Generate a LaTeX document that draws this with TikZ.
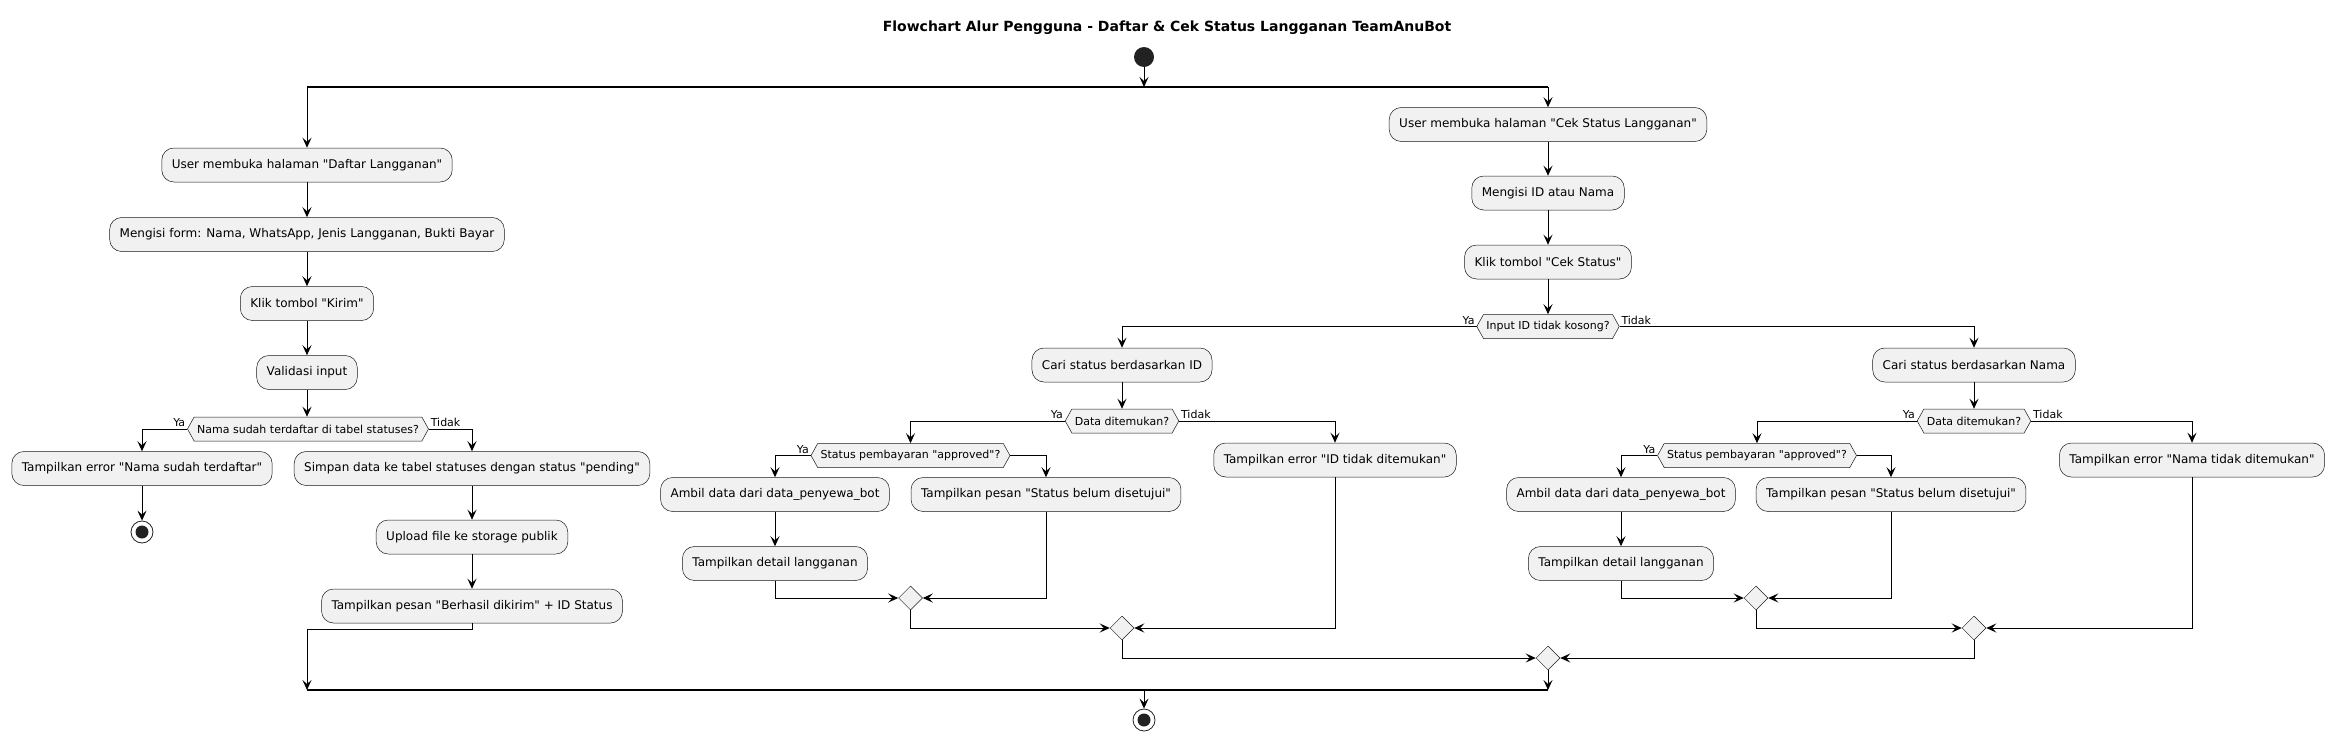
\documentclass[tikz,border=0pt]{standalone}
\usepackage{fontspec}
\setmainfont{DejaVu Sans}[Ligatures=TeXOff]
\usetikzlibrary{arrows.meta,shapes.geometric,shapes.symbols}
\definecolor{boxfill}{HTML}{F1F1F1}
\definecolor{boxline}{HTML}{181818}
\definecolor{dot}{HTML}{222222}
\begin{document}
\begin{tikzpicture}[x=1pt,y=-1pt,
  act/.style={draw=boxline,line width=0.5pt,fill=boxfill,rounded corners=12pt,minimum height=34pt,inner xsep=10pt,font=\fontsize{12}{14}\selectfont},
  ask/.style={draw=boxline,line width=0.5pt,fill=boxfill,signal,signal to=east and west,signal pointer angle=122,minimum height=24pt,inner xsep=3pt,inner ysep=2pt,font=\fontsize{11}{13}\selectfont},
  merge/.style={draw=boxline,line width=0.5pt,fill=boxfill,diamond,minimum width=24pt,minimum height=24pt,inner sep=0pt},
  startdot/.style={circle,fill=dot,minimum size=20pt,inner sep=0pt},
  stopdot/.style={circle,draw=dot,fill=white,line width=0.8pt,minimum size=22pt,inner sep=0pt,path picture={\fill[dot] (path picture bounding box.center) circle (6.5pt);}},
  arr/.style={-{Stealth[length=10pt,width=9pt,inset=4pt]},line width=1pt},
  bar/.style={line width=1.6pt},
  lbl/.style={font=\fontsize{11}{13}\selectfont,inner sep=1.5pt}]
\useasboundingbox (0,0) rectangle (2335,742);
\node[font=\bfseries\fontsize{14}{16}\selectfont] (title) at (1167,28) {Flowchart Alur Pengguna - Daftar \& Cek Status Langganan TeamAnuBot};
\node[startdot] (start) at (1144,57) {};
\coordinate (forkL) at (307,87);
\coordinate (forkR) at (1548,87);
\coordinate (joinL) at (307,690);
\coordinate (joinR) at (1548,690);
\draw[bar] (forkL) -- (forkR);
\draw[bar] (joinL) -- (joinR);
\draw[arr] (start) -- (start |- forkL);

\node[act] (d1) at (307,165) {User membuka halaman "Daftar Langganan"};
\node[act] (d2) at (307,234.5) {Mengisi form: Nama, WhatsApp, Jenis Langganan, Bukti Bayar};
\node[act] (d3) at (307,303.5) {Klik tombol "Kirim"};
\node[act] (d4) at (307,372.5) {Validasi input};
\node[ask] (q1) at (308,429) {Nama sudah terdaftar di tabel statuses?};
\node[act] (e1) at (142,468.5) {Tampilkan error "Nama sudah terdaftar"};
\node[stopdot] (stop1) at (142,532) {};
\node[act] (s1) at (472,468.5) {Simpan data ke tabel statuses dengan status "pending"};
\node[act] (s2) at (472,537) {Upload file ke storage publik};
\node[act] (s3) at (472,606) {Tampilkan pesan "Berhasil dikirim" + ID Status};
\draw[arr] (forkL) -- (d1);
\draw[arr] (d1) -- (d2);
\draw[arr] (d2) -- (d3);
\draw[arr] (d3) -- (d4);
\draw[arr] (d4) -- (d4 |- q1.north);
\draw[arr] (q1.west) -| node[lbl,anchor=south east,pos=0]{Ya} (e1.north);
\draw[arr] (q1.east) -| node[lbl,anchor=south west,pos=0]{Tidak} (s1.north);
\draw[arr] (e1) -- (stop1);
\draw[arr] (s1) -- (s2);
\draw[arr] (s2) -- (s3);
\draw[arr] (s3.south) -- ++(0,6) -| (joinL);

\node[act] (c1) at (1548,124.5) {User membuka halaman "Cek Status Langganan"};
\node[act] (c2) at (1548,193) {Mengisi ID atau Nama};
\node[act] (c3) at (1548,262) {Klik tombol "Cek Status"};
\node[ask] (q2) at (1548,326.5) {Input ID tidak kosong?};
\draw[arr] (forkR) -- (c1);
\draw[arr] (c1) -- (c2);
\draw[arr] (c2) -- (c3);
\draw[arr] (c3) -- (q2.north);

\node[act] (i1) at (1122,365) {Cari status berdasarkan ID};
\node[ask] (q3) at (1122,421) {Data ditemukan?};
\node[ask] (q4) at (910.5,455.5) {Status pembayaran "approved"?};
\node[act] (a1) at (775,494.5) {Ambil data dari data\_penyewa\_bot};
\node[act] (a2) at (775,563.5) {Tampilkan detail langganan};
\node[act] (p1) at (1046,494.5) {Tampilkan pesan "Status belum disetujui"};
\node[merge] (m1) at (910.5,598) {};
\node[act] (e2) at (1335,460) {Tampilkan error "ID tidak ditemukan"};
\node[merge] (m2) at (1122,628) {};
\draw[arr] (q2.west) -| node[lbl,anchor=south east,pos=0]{Ya} (i1.north);
\draw[arr] (i1) -- (q3.north);
\draw[arr] (q3.west) -| node[lbl,anchor=south east,pos=0]{Ya} (q4.north);
\draw[arr] (q3.east) -| node[lbl,anchor=south west,pos=0]{Tidak} (e2.north);
\draw[arr] (q4.west) -| node[lbl,anchor=south east,pos=0]{Ya} (a1.north);
\draw[arr] (q4.east) -| (p1.north);
\draw[arr] (a1) -- (a2);
\draw[arr] (a2.south) |- (m1.west);
\draw[arr] (p1.south) |- (m1.east);
\draw[arr] (m1.south) |- (m2.west);
\draw[arr] (e2.south) |- (m2.east);

\node[act] (n1) at (1974,365) {Cari status berdasarkan Nama};
\node[ask] (q5) at (1974,421) {Data ditemukan?};
\node[ask] (q6) at (1757,455.5) {Status pembayaran "approved"?};
\node[act] (b1) at (1621,494.5) {Ambil data dari data\_penyewa\_bot};
\node[act] (b2) at (1621,563.5) {Tampilkan detail langganan};
\node[act] (p2) at (1891,494.5) {Tampilkan pesan "Status belum disetujui"};
\node[merge] (m3) at (1756,598) {};
\node[act] (e3) at (2192,460) {Tampilkan error "Nama tidak ditemukan"};
\node[merge] (m4) at (1974,628) {};
\draw[arr] (q2.east) -| node[lbl,anchor=south west,pos=0]{Tidak} (n1.north);
\draw[arr] (n1) -- (q5.north);
\draw[arr] (q5.west) -| node[lbl,anchor=south east,pos=0]{Ya} (q6.north);
\draw[arr] (q5.east) -| node[lbl,anchor=south west,pos=0]{Tidak} (e3.north);
\draw[arr] (q6.west) -| node[lbl,anchor=south east,pos=0]{Ya} (b1.north);
\draw[arr] (q6.east) -| (p2.north);
\draw[arr] (b1) -- (b2);
\draw[arr] (b2.south) |- (m3.west);
\draw[arr] (p2.south) |- (m3.east);
\draw[arr] (m3.south) |- (m4.west);
\draw[arr] (e3.south) |- (m4.east);

\node[merge] (m5) at (1548,658) {};
\node[stopdot] (stop2) at (1144,720) {};
\draw[arr] (m2.south) |- (m5.west);
\draw[arr] (m4.south) |- (m5.east);
\draw[arr] (m5.south) -- (joinR);
\draw[arr] (stop2 |- joinL) -- (stop2);
\end{tikzpicture}
\end{document}
